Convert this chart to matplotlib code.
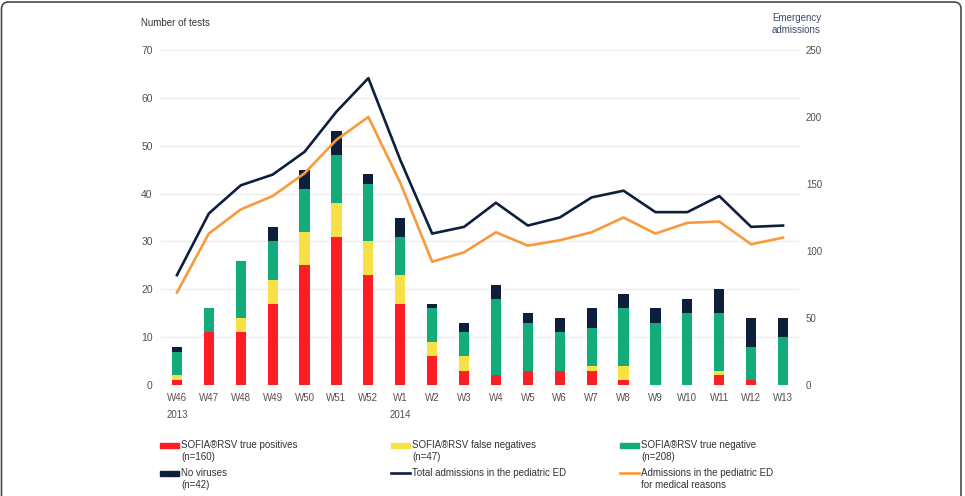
#! /usr/bin/env python3

import numpy as np
import matplotlib
matplotlib.use('Agg')
import matplotlib.pyplot as plt
from matplotlib.patches import Rectangle, FancyBboxPatch
from matplotlib.lines import Line2D
import matplotlib.transforms as mtransforms

plt.rcParams['font.family'] = ['Liberation Sans', 'DejaVu Sans']

# ----------------------------- data

weeks = ['W46', 'W47', 'W48', 'W49', 'W50', 'W51', 'W52', 'W1', 'W2', 'W3',
         'W4', 'W5', 'W6', 'W7', 'W8', 'W9', 'W10', 'W11', 'W12', 'W13']

# stacked test results per week
true_pos = [1, 11, 11, 17, 25, 31, 23, 17, 6, 3, 2, 3, 3, 3, 1, 0, 0, 2, 1, 0]
false_neg = [1, 0, 3, 5, 7, 7, 7, 6, 3, 3, 0, 0, 0, 1, 3, 0, 0, 1, 0, 0]
true_neg = [5, 5, 12, 8, 9, 10, 12, 8, 7, 5, 16, 10, 8, 8, 12, 13, 15, 12, 7, 10]
no_virus = [1, 0, 0, 3, 4, 5, 2, 4, 1, 2, 3, 2, 3, 4, 3, 3, 3, 5, 6, 4]

# emergency admissions (right axis)
total_adm = [82, 128, 149, 157, 174, 204, 229, 168, 113, 118, 136, 119, 125,
             140, 145, 129, 129, 141, 118, 119]
medical_adm = [69, 113, 131, 141, 158, 183, 200, 151, 92, 99, 114, 104, 108,
               114, 125, 113, 121, 122, 105, 110]

left_ticks = [0, 10, 20, 30, 40, 50, 60, 70]
right_ticks = [0, 50, 100, 150, 200, 250]

# ----------------------------- style

c_red = '#fb1e24'
c_yellow = '#f7e147'
c_green = '#12ab7c'
c_navy = '#0e1f3b'
c_orange = '#f89a3b'
c_tick = '#505050'

W, H = 965, 496
fig = plt.figure(figsize=(W / 100, H / 100), dpi=100)
ax = fig.add_axes([161 / W, 1 - 385 / H, 638 / W, 335 / H])

x = np.arange(len(weeks))
bw = 0.32

tp = np.array(true_pos)
fn = np.array(false_neg)
tn = np.array(true_neg)
nv = np.array(no_virus)

ax.bar(x, tp, bw, color=c_red, zorder=2)
ax.bar(x, fn, bw, bottom=tp, color=c_yellow, zorder=2)
ax.bar(x, tn, bw, bottom=tp + fn, color=c_green, zorder=2)
ax.bar(x, nv, bw, bottom=tp + fn + tn, color=c_navy, zorder=2)

ax.set_xlim(-0.5, len(weeks) - 0.5)
ax.set_ylim(0, 70)
ax.set_yticks(left_ticks)
ax.yaxis.grid(True, color='#ececec', linewidth=1.0, zorder=0)
ax.set_axisbelow(True)
ax.set_xticks(x)
ax.set_xticklabels(weeks)
ax.tick_params(axis='x', length=0, pad=6, labelsize=7, labelcolor=c_tick)
ax.tick_params(axis='y', length=0, pad=6, labelsize=7.5, labelcolor=c_tick)
for s in ax.spines.values():
    s.set_visible(False)

ax2 = ax.twinx()
ax2.plot(x, total_adm, color=c_navy, linewidth=1.9)
ax2.plot(x, medical_adm, color=c_orange, linewidth=1.9)
ax2.set_ylim(0, 250)
ax2.set_yticks(right_ticks)
ax2.tick_params(axis='y', length=0, pad=5, labelsize=7, labelcolor=c_tick)
for s in ax2.spines.values():
    s.set_visible(False)

# year labels under the week ticks
trans = mtransforms.blended_transform_factory(ax.transData, ax.transAxes)
ax.text(0, -30 / 335, '2013', transform=trans, ha='center', va='center',
        fontsize=7, color=c_tick)
ax.text(7, -30 / 335, '2014', transform=trans, ha='center', va='center',
        fontsize=7, color=c_tick)

# axis titles
fig.text(141 / W, 1 - 23 / H, 'Number of tests', ha='left', va='center',
         fontsize=7, color='#333333')
fig.text(821 / W, 1 - 24 / H, 'Emergency\nadmissions', ha='right', va='center',
         fontsize=7, color='#3c4a66', linespacing=1.15)

# ----------------------------- legend (drawn by hand, 3 columns x 2 rows)

def legend_entry(px, py, label, color, kind):
    # px, py: left of handle and centre of first text line, pixels from top-left
    if kind == 'patch':
        fig.add_artist(Rectangle((px / W, 1 - (py + 2.5) / H), 19 / W, 5 / H,
                                 transform=fig.transFigure, color=color))
    else:
        fig.add_artist(Line2D([px / W, (px + 19) / W], [1 - py / H, 1 - py / H],
                              transform=fig.transFigure, color=color,
                              linewidth=1.9))
    fig.text((px + 21) / W, 1 - (py - 5.5) / H, label, ha='left', va='top',
             fontsize=7, color='#333333', linespacing=1.25)

cols = [160, 391, 620]
rows = [445, 473]
legend_entry(cols[0], rows[0], 'SOFIA®RSV true positives\n(n=160)', c_red, 'patch')
legend_entry(cols[1], rows[0], 'SOFIA®RSV false negatives\n(n=47)', c_yellow, 'patch')
legend_entry(cols[2], rows[0], 'SOFIA®RSV true negative\n(n=208)', c_green, 'patch')
legend_entry(cols[0], rows[1], 'No viruses\n(n=42)', c_navy, 'patch')
legend_entry(cols[1], rows[1], 'Total admissions in the pediatric ED', c_navy, 'line')
legend_entry(cols[2], rows[1], 'Admissions in the pediatric ED\nfor medical reasons',
             c_orange, 'line')

# rounded frame around the figure (bottom edge falls outside the image)
frame = FancyBboxPatch((1.5, -30), 959.5, H - 2 + 30,
                       boxstyle='round,pad=0,rounding_size=7',
                       transform=None, fill=False, edgecolor='#4a4a4a',
                       linewidth=1.2)
fig.add_artist(frame)

fig.savefig('out.png', dpi=100)
